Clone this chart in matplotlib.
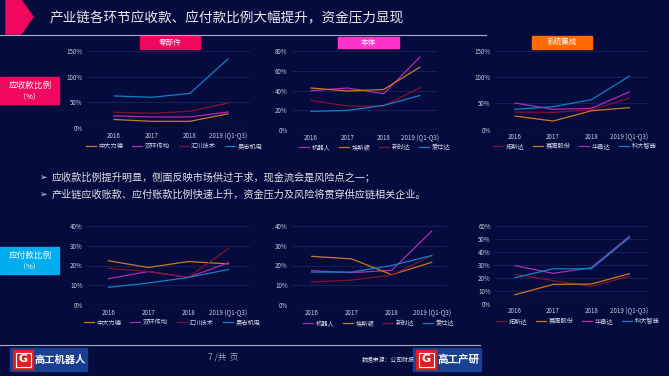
import matplotlib
matplotlib.use("Agg")
import matplotlib.pyplot as plt
from matplotlib.patches import Polygon, Rectangle
from matplotlib.lines import Line2D

plt.rcParams['font.family'] = ['Noto Sans CJK SC', 'DejaVu Sans']

# ---------------- data ----------------
years = ["2016", "2017", "2018", "2019 (Q1-Q3)"]

# receivables ratio (%)
rec_parts_names = ["中大力德", "双环传动", "汇川技术", "昊志机电"]
rec_parts = [
    [17, 13.5, 13.5, 28],
    [24, 22, 22, 31.5],
    [31, 29, 33, 49],
    [62.5, 60, 67.5, 134],
]
rec_body_names = ["机器人", "埃斯顿", "新时达", "爱仕达"]
rec_body = [
    [39.8, 42.5, 36.8, 73.6],
    [42.5, 39.5, 41, 63.5],
    [30, 24.4, 24.4, 42.8],
    [19, 20, 25, 35],
]
rec_sys_names = ["拓斯达", "赛腾股份", "华昌达", "科大智能"]
rec_sys = [
    [33.7, 33, 38, 60],
    [26, 16.5, 36, 42],
    [51, 38.8, 40.7, 72],
    [38.8, 43.9, 57, 102],
]

# payables ratio (%)
pay_parts = [
    [22.4, 19, 22, 20.8],
    [13.4, 17, 14, 21.4],
    [18.6, 17, 14, 28.6],
    [9, 11.2, 14, 18],
]
pay_body = [
    [17.4, 16.4, 17.6, 37.3],
    [24.6, 23.3, 15.4, 21.6],
    [11.7, 12.7, 15.2, 25],
    [16.7, 16.7, 20, 25],
]
pay_sys = [
    [22.7, 17.9, 13.5, 21.2],
    [7.1, 15, 15.3, 23.2],
    [29.4, 23.5, 27.8, 51.8],
    [20.2, 27, 27, 50.8],
]

ORANGE = "#c97a20"
MAGENTA = "#b02ab4"
DARKRED = "#85102e"
BLUE = "#1080c8"
colors_parts = [ORANGE, MAGENTA, DARKRED, BLUE]
colors_body = [MAGENTA, ORANGE, DARKRED, BLUE]
colors_sys = [DARKRED, ORANGE, MAGENTA, BLUE]

BG = "#050c3d"
W, H = 669, 376
fig = plt.figure(figsize=(W / 100, H / 100), dpi=100, facecolor=BG)

# decoration axes in pixel coords, drawn above everything
top = fig.add_axes([0, 0, 1, 1], zorder=5)
top.set_xlim(0, W)
top.set_ylim(H, 0)
top.axis("off")
top.patch.set_alpha(0)


def px_axes(x0, x1, y0, y1):
    return fig.add_axes([x0 / W, 1 - y1 / H, (x1 - x0) / W, (y1 - y0) / H])


def ptext(x, y, s, **kw):
    top.text(x, y, s, **kw)


def chart(box, xlim, ylim, yticks, series, names, colors, legpos):
    ax = px_axes(*box)
    ax.set_facecolor(BG)
    ax.patch.set_alpha(0)
    for vals, c in zip(series, colors):
        ax.plot(range(len(years)), vals, color=c, lw=0.9)
    ax.set_xlim(*xlim)
    ax.set_ylim(*ylim)
    ax.set_yticks(yticks)
    ax.set_yticklabels([f"{t}%" for t in yticks])
    ax.set_xticks(range(len(years)))
    ax.set_xticklabels(years)
    for s in ax.spines.values():
        s.set_visible(False)
    ax.tick_params(length=0, labelsize=4.5, colors="#c8cce0", pad=3)
    ax.tick_params(axis="x", pad=2.5)
    for t in yticks[1:]:
        ax.axhline(t, color="#1a2358", lw=0.6, zorder=0)
    ax.axhline(0, color="#5a6294", lw=0.8, zorder=1)
    handles = [Line2D([0], [0], color=c, lw=0.9) for c in colors]
    ax.legend(handles, names, loc="center left",
              bbox_to_anchor=(legpos[0] / W, 1 - legpos[1] / H),
              bbox_transform=fig.transFigure, ncol=4, fontsize=4.5,
              handlelength=1.6, columnspacing=1.4, handletextpad=0.4,
              frameon=False, borderpad=0, borderaxespad=0, labelcolor="#d0d4e6")
    return ax


# top row
chart((87, 250, 50.7, 128.3), (-0.71, 3.58), (0, 150), [0, 50, 100, 150],
      rec_parts, rec_parts_names, colors_parts, (86, 146))
chart((291.7, 436.7, 50.7, 130.3), (-0.53, 3.46), (0, 80), [0, 20, 40, 60, 80],
      rec_body, rec_body_names, colors_body, (299, 147.5))
chart((495, 648, 51, 129.7), (-0.525, 3.49), (0, 150), [0, 50, 100, 150],
      rec_sys, rec_sys_names, colors_sys, (493, 146.5))

# bottom row
chart((86.7, 250, 225.7, 305.3), (-0.54, 3.54), (0, 40), [0, 10, 20, 30, 40],
      pay_parts, rec_parts_names, colors_parts, (84, 322.5))
chart((291.7, 446.7, 225.7, 305.3), (-0.5, 3.375), (0, 40), [0, 10, 20, 30, 40],
      pay_body, rec_body_names, colors_body, (303, 323))
chart((495, 648, 225.7, 304), (-0.525, 3.49), (0, 60), [0, 10, 20, 30, 40, 50, 60],
      pay_sys, rec_sys_names, colors_sys, (496, 321.5))

# title arrow + title
top.add_patch(Polygon([(6, 0), (21, 0), (33, 17), (21, 34), (6, 34)], closed=True, color="#f0085f"))
top.plot([0, 486], [34.5, 34.5], color="#a8acc8", lw=0.8)
ptext(50, 18, "产业链各环节应收款、应付款比例大幅提升，资金压力显现",
      fontsize=9.8, color="#e8e8f0", va="center", ha="left")

# category label boxes
for (x0, x1, y0, y1, c, s) in [(140, 200, 36, 49, "#f0085f", "零部件"),
                               (338, 399, 37, 48, "#ff33cc", "本体"),
                               (532, 592, 36, 49, "#ff6a00", "系统集成")]:
    top.add_patch(Rectangle((x0, y0), x1 - x0, y1 - y0, color=c))
    ptext((x0 + x1) / 2, (y0 + y1) / 2, s, fontsize=5.5, color="white", ha="center", va="center")

# side labels
for (y0, c, s) in [(77, "#f0085f", "应收款比例"), (247, "#00aeef", "应付款比例")]:
    top.add_patch(Rectangle((0, y0), 59, 27, color=c))
    ptext(30, y0 + 8, s, fontsize=6.2, color="white", ha="center", va="center")
    ptext(30, y0 + 19, "（%）", fontsize=5.2, color="white", ha="center", va="center")

# bullets
bullets = ["应收款比例提升明显，侧面反映市场供过于求，现金流会是风险点之一；",
           "产业链应收账款、应付账款比例快速上升，资金压力及风险将贯穿供应链相关企业。"]
for y, s in zip([177, 194.5], bullets):
    ptext(40, y, "➢", fontsize=6.5, color="#e0e0ea", ha="left", va="center", family="DejaVu Sans")
    ptext(52, y, s, fontsize=7.3, color="#e0e0ea", ha="left", va="center")

# footer
top.plot([0, 480], [344.5, 344.5], color="#a8acc8", lw=0.8)
ptext(208, 357, "7 /共  页", fontsize=6, color="#9ea2b8", ha="left", va="center")
ptext(362, 359, "数据来源：公司财报", fontsize=4.2, color="#e0e0ea", ha="left", va="center")

for (x0, x1, s, fs) in [(10, 87, "高工机器人", 7.4), (413, 481, "高工产研", 7.6)]:
    top.add_patch(Rectangle((x0, 348), x1 - x0, 23, color="#1b3f8f"))
    top.add_patch(Rectangle((x0 + 3, 350), 20, 19, color="#e02020"))
    top.add_patch(Rectangle((x0 + 5.5, 352.5), 15, 14, fill=False, ec="white", lw=0.8))
    ptext(x0 + 13, 359.5, "G", fontsize=8, color="white", ha="center", va="center", weight="bold",
          family="DejaVu Sans")
    ptext(x0 + 24, 359.5, s, fontsize=fs, color="white",
          ha="left", va="center", weight="bold")

fig.savefig("out.png", dpi=100, facecolor=BG)
